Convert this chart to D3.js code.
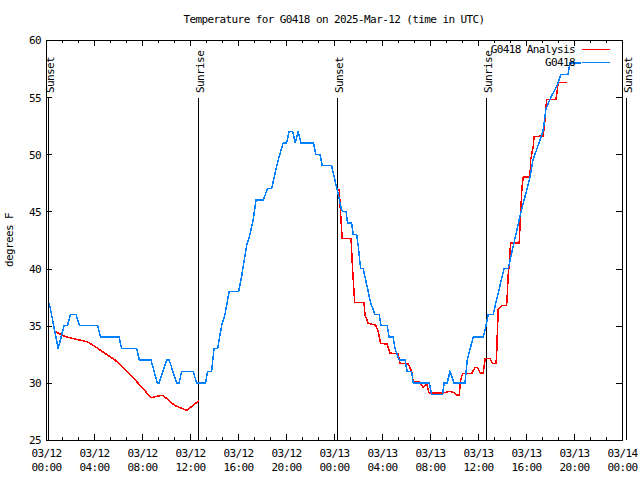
<!DOCTYPE html>
<html>
<head>
<meta charset="utf-8">
<script src="https://cdn.jsdelivr.net/npm/d3@7"></script>
<style>
  body { margin: 0; background: #fff; }
</style>
</head>
<body>
<script>
const w = 640;
const h = 480;
const font = "DejaVu Sans Mono";

// observed station temps (deg F)
const obsTimes = [
  "03/12 00:16", "03/12 01:01", "03/12 01:30", "03/12 01:47", "03/12 02:03", "03/12 02:30",
  "03/12 02:47", "03/12 04:18", "03/12 04:33", "03/12 06:05", "03/12 06:18", "03/12 07:33",
  "03/12 07:47", "03/12 08:45", "03/12 09:16", "03/12 09:26", "03/12 10:03", "03/12 10:16",
  "03/12 10:53", "03/12 11:06", "03/12 11:18", "03/12 12:16", "03/12 12:33", "03/12 13:18",
  "03/12 13:28", "03/12 13:48", "03/12 14:00", "03/12 14:18", "03/12 14:38", "03/12 14:55",
  "03/12 15:16", "03/12 16:03", "03/12 16:18", "03/12 16:43", "03/12 17:00", "03/12 17:16",
  "03/12 17:30", "03/12 18:06", "03/12 18:28", "03/12 18:48", "03/12 19:05", "03/12 19:21",
  "03/12 19:46", "03/12 20:03", "03/12 20:16", "03/12 20:33", "03/12 20:46", "03/12 21:01",
  "03/12 21:15", "03/12 22:18", "03/12 22:28", "03/12 22:50", "03/12 23:01", "03/12 23:48",
  "03/13 00:01", "03/13 00:16", "03/13 00:38", "03/13 00:46", "03/13 01:00", "03/13 01:08",
  "03/13 01:28", "03/13 01:36", "03/13 01:53", "03/13 02:01", "03/13 02:13", "03/13 02:26",
  "03/13 02:51", "03/13 03:03", "03/13 03:25", "03/13 03:46", "03/13 03:55", "03/13 04:26",
  "03/13 04:36", "03/13 04:56", "03/13 05:05", "03/13 05:26", "03/13 05:55", "03/13 06:06",
  "03/13 06:28", "03/13 06:36", "03/13 07:56", "03/13 08:08", "03/13 09:03", "03/13 09:11",
  "03/13 09:26", "03/13 09:40", "03/13 10:00", "03/13 10:55", "03/13 11:06", "03/13 11:36",
  "03/13 12:26", "03/13 12:40", "03/13 12:51", "03/13 13:16", "03/13 14:10", "03/13 14:31",
  "03/13 15:30", "03/13 16:20", "03/13 16:35", "03/13 17:25", "03/13 17:40", "03/13 18:05",
  "03/13 18:40", "03/13 18:55", "03/13 19:30", "03/13 19:40", "03/13 20:35"
];
const obsTemps = [
  37, 33, 35, 35, 36, 36,
  35, 35, 34, 34, 33, 33,
  32, 32, 30, 30, 32, 32,
  30, 30, 31, 31, 30, 30,
  31, 31, 33, 33, 35, 36,
  38, 38, 39.3, 42, 43, 44.3,
  46, 46, 47, 47, 48.3, 49.5,
  51, 51, 52, 52, 51, 52,
  51, 51, 50, 50, 49, 49,
  48, 46.9, 45.1, 45, 45, 44,
  44, 43, 43, 42, 40, 40,
  38, 37, 36, 36, 35, 35,
  34, 34, 33, 32, 32, 31,
  31, 30, 30, 29, 29, 30,
  30, 31, 30, 30, 32, 34,
  34, 35, 36, 36, 40, 40,
  44.6, 48, 49.5, 52, 54, 55,
  56.2, 57, 57, 58, 58
];

// analysis temps (deg F), null = gap
const anaTimes = [
  "03/12 00:45", "03/12 01:35", "03/12 02:35", "03/12 03:25", "03/12 03:55", "03/12 04:45",
  "03/12 05:45", "03/12 06:45", "03/12 07:50", "03/12 08:45", "03/12 09:20", "03/12 09:45",
  "03/12 10:45", "03/12 11:45", "03/12 12:45", "03/12 18:00",
  "03/13 00:16", "03/13 00:26", "03/13 00:38", "03/13 00:41", "03/13 01:25", "03/13 01:33",
  "03/13 01:40", "03/13 01:43", "03/13 02:30", "03/13 02:35", "03/13 02:51", "03/13 03:28",
  "03/13 03:41", "03/13 03:53", "03/13 04:26", "03/13 04:40", "03/13 05:21", "03/13 05:30",
  "03/13 06:11", "03/13 06:28", "03/13 06:36", "03/13 07:10", "03/13 07:26", "03/13 07:43",
  "03/13 07:56", "03/13 08:58", "03/13 09:40", "03/13 10:05", "03/13 10:13", "03/13 10:26",
  "03/13 10:33", "03/13 10:43", "03/13 11:28", "03/13 11:45", "03/13 11:56", "03/13 12:13",
  "03/13 12:26", "03/13 12:36", "03/13 13:00", "03/13 13:13", "03/13 13:30", "03/13 13:33",
  "03/13 13:36", "03/13 13:41", "03/13 13:58", "03/13 14:23", "03/13 14:26", "03/13 14:31",
  "03/13 14:36", "03/13 14:43", "03/13 15:26", "03/13 15:33", "03/13 15:40", "03/13 15:46",
  "03/13 16:20", "03/13 16:23", "03/13 16:36", "03/13 16:40", "03/13 17:26", "03/13 17:30",
  "03/13 17:35", "03/13 17:40", "03/13 17:43", "03/13 18:30", "03/13 18:36", "03/13 18:41",
  "03/13 19:26"
];
const anaTemps = [
  34.5, 34.05, 33.8, 33.6, 33.3, 32.7,
  32.0, 31.0, 29.8, 28.7, 28.85, 28.9,
  28.0, 27.6, 28.45, null,
  46.9, 46.9, 43.4, 42.65, 42.65, 39.9,
  38.0, 37.05, 37.05, 35.95, 35.2, 35.05,
  34.5, 33.45, 33.4, 32.6, 32.55, 31.7,
  31.65, 31.0, 30.1, 30.05, 29.6, 29.9,
  29.1, 29.1, 29.25, 29.1, 28.95, 28.95,
  30.25, 30.8, 30.8, 31.35, 31.35, 30.85,
  30.85, 32.15, 32.15, 31.7, 31.7, 32.4,
  34.0, 36.4, 36.75, 36.75, 37.55, 39.45,
  40.3, 42.25, 42.25, 44.8, 47.15, 48.0,
  48.0, 49.5, 50.65, 51.55, 51.6, 52.25,
  53.0, 54.1, 54.8, 54.8, 55.6, 56.3,
  56.3
];

const sunLabels = ["Sunset", "Sunrise", "Sunset", "Sunrise", "Sunset"];
const sunTimes = ["03/12 00:12", "03/12 12:40", "03/13 00:16", "03/13 12:38", "03/14 00:18"];

const yTicks = [25, 30, 35, 40, 45, 50, 55, 60];
const seriesNames = ["G0418 Analysis", "G0418"];
const seriesColors = ["#ff0000", "#0080ff"];

const parseTime = (s) => d3.utcParse("%Y/%m/%d %H:%M")("2025/" + s);
const t0 = parseTime("03/12 00:00");
const t1 = parseTime("03/14 00:00");

const obs = obsTimes.map((t, i) => ({ t: parseTime(t), v: obsTemps[i] }));
const ana = anaTimes.map((t, i) => ({ t: parseTime(t), v: anaTemps[i] }));

const mLeft = 46, mRight = 622, mTop = 40, mBottom = 440;

const x = d3.scaleUtc().domain([t0, t1]).range([mLeft, mRight]);
const y = d3.scaleLinear().domain([25, 60]).range([mBottom, mTop]);

const svg = d3
  .select("body")
  .append("svg")
  .attr("width", w)
  .attr("height", h)
  .attr("font-family", font)
  .attr("font-size", 11)
  .style("letter-spacing", "-0.6px");

const majorTicks = d3.utcHour.every(4).range(t0, d3.utcHour.offset(t1, 1));
const minorTicks = d3.range(0, 48 * 60 + 1, 80).map((m) => d3.utcMinute.offset(t0, m));

// ticks
const fixAxis = (g) => {
  g.attr("font-family", font).attr("font-size", 11);
  g.select(".domain").remove();
  g.selectAll("line").attr("stroke", "#000").attr("shape-rendering", "crispEdges");
};

svg.append("g")
  .attr("transform", `translate(0,${mBottom})`)
  .call(d3.axisBottom(x).tickValues(minorTicks).tickSize(-3).tickFormat(""))
  .call(fixAxis);
svg.append("g")
  .attr("transform", `translate(0,${mTop})`)
  .call(d3.axisTop(x).tickValues(minorTicks).tickSize(-3).tickFormat(""))
  .call(fixAxis);
svg.append("g")
  .attr("transform", `translate(0,${mTop})`)
  .call(d3.axisTop(x).tickValues(majorTicks).tickSize(-6).tickFormat(""))
  .call(fixAxis);

const xAxis = svg.append("g")
  .attr("transform", `translate(0,${mBottom})`)
  .call(d3.axisBottom(x).tickValues(majorTicks).tickSize(-6).tickPadding(0)
    .tickFormat(d3.utcFormat("%m/%d|%H:%M")))
  .call(fixAxis);

xAxis.selectAll("text").each(function (d) {
  const parts = d3.select(this).text().split("|");
  const txt = d3.select(this).text(null).attr("y", 0).attr("dy", null);
  parts.forEach((p, i) => {
    txt.append("tspan").attr("x", 0).attr("y", 17 + i * 14).text(p);
  });
});

svg.append("g")
  .attr("transform", `translate(${mLeft},0)`)
  .call(d3.axisLeft(y).tickValues(yTicks).tickSize(-6).tickPadding(5))
  .call(fixAxis)
  .selectAll("text")
  .attr("dy", "0.35em");

svg.append("g")
  .attr("transform", `translate(${mRight},0)`)
  .call(d3.axisRight(y).tickValues(yTicks).tickSize(-6).tickFormat(""))
  .call(fixAxis);

// frame
svg.append("rect")
  .attr("x", mLeft + 0.5)
  .attr("y", mTop + 0.5)
  .attr("width", mRight - mLeft)
  .attr("height", mBottom - mTop)
  .attr("fill", "none")
  .attr("stroke", "#000");

// sunrise / sunset markers
const sun = svg.selectAll(".sun")
  .data(sunTimes)
  .enter()
  .append("g")
  .attr("class", "sun")
  .attr("transform", (d) => `translate(${Math.round(x(parseTime(d))) + 0.5},0)`);

sun.append("line")
  .attr("y1", 98)
  .attr("y2", mBottom)
  .attr("stroke", "#000");

sun.append("text")
  .attr("transform", "translate(5,93) rotate(-90)")
  .text((d, i) => sunLabels[i]);

// series
const line = d3.line()
  .defined((d) => d.v != null)
  .x((d) => x(d.t))
  .y((d) => y(d.v));

svg.append("path")
  .datum(ana)
  .attr("fill", "none")
  .attr("stroke", seriesColors[0])
  .attr("stroke-width", 1.5)
  .attr("shape-rendering", "crispEdges")
  .attr("d", line);

svg.append("path")
  .datum(obs)
  .attr("fill", "none")
  .attr("stroke", seriesColors[1])
  .attr("stroke-width", 1.5)
  .attr("shape-rendering", "crispEdges")
  .attr("d", line);

// legend
const legend = svg.selectAll(".key")
  .data(seriesNames)
  .enter()
  .append("g")
  .attr("class", "key")
  .attr("transform", (d, i) => `translate(0,${49 + i * 13})`);

legend.append("text")
  .attr("x", 575)
  .attr("dy", "0.35em")
  .attr("text-anchor", "end")
  .text((d) => d);

legend.append("line")
  .attr("x1", 582)
  .attr("x2", 610)
  .attr("y1", 0.5)
  .attr("y2", 0.5)
  .attr("stroke", (d, i) => seriesColors[i])
  .attr("stroke-width", 1.5)
  .attr("shape-rendering", "crispEdges");

// title and y label
svg.append("text")
  .attr("x", (mLeft + mRight) / 2)
  .attr("y", 23)
  .attr("text-anchor", "middle")
  .text("Temperature for G0418 on 2025-Mar-12 (time in UTC)");

svg.append("text")
  .attr("transform", `translate(13,${(mTop + mBottom) / 2}) rotate(-90)`)
  .attr("text-anchor", "middle")
  .text("degrees F");
</script>
</body>
</html>
